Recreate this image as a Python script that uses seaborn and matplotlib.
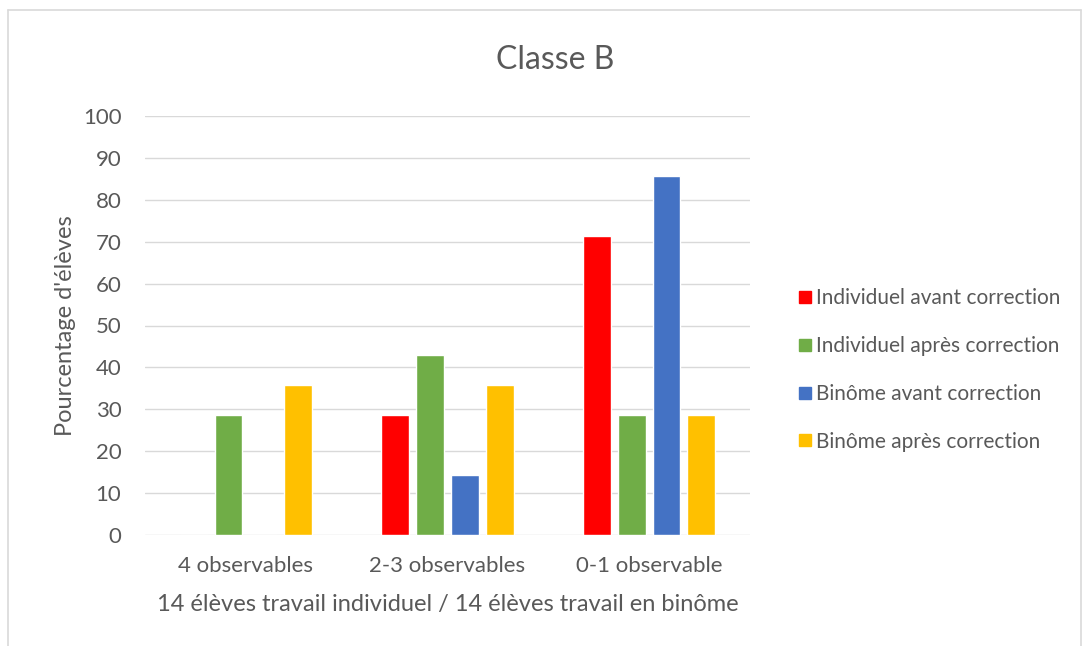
import matplotlib
matplotlib.use("Agg")
import matplotlib.pyplot as plt
import pandas as pd
import seaborn as sns
from matplotlib.lines import Line2D

categories = ["4 observables", "2-3 observables", "0-1 observable"]
series = [
    "Individuel avant correction",
    "Individuel après correction",
    "Binôme avant correction",
    "Binôme après correction",
]
indiv_avant = [0, 28.57, 71.43]
indiv_apres = [28.57, 42.86, 28.57]
binome_avant = [0, 14.29, 85.71]
binome_apres = [35.71, 35.71, 28.57]
colors = ["#FF0000", "#70AD47", "#4472C4", "#FFC000"]

rows = []
for name, vals in zip(series, [indiv_avant, indiv_apres, binome_avant, binome_apres]):
    for cat, v in zip(categories, vals):
        rows.append({"cat": cat, "serie": name, "val": v})
df = pd.DataFrame(rows)

sns.set_theme(style="white")
plt.rcParams["font.family"] = ["Lato", "DejaVu Sans"]
text_color = "#595959"

fig = plt.figure(figsize=(10.91, 6.46), dpi=100)
ax = fig.add_axes([145 / 1091, 111 / 646, 605 / 1091, 419 / 646])

sns.barplot(data=df, x="cat", y="val", hue="serie", order=categories,
            hue_order=series, palette=colors, width=0.69, gap=0.2,
            saturation=1, legend=False, ax=ax)

ax.set_ylim(0, 100)
ax.set_xlim(-0.5, 2.5)
ax.set_yticks(range(0, 101, 10))
ax.yaxis.grid(True, color="#D9D9D9", lw=1)
ax.set_axisbelow(True)
for s in ax.spines.values():
    s.set_visible(False)
ax.tick_params(axis="both", length=0, labelsize=16, colors=text_color)
ax.tick_params(axis="y", pad=17)
ax.tick_params(axis="x", pad=15)
ax.set_xlabel("14 élèves travail individuel / 14 élèves travail en binôme",
              fontsize=17, color=text_color, labelpad=13)
ax.set_ylabel("Pourcentage d'élèves", fontsize=17, color=text_color, labelpad=5)

handles = [Line2D([], [], marker="s", ls="", color=c, markersize=9) for c in colors]
fig.legend(handles, series, loc="center left", bbox_to_anchor=(779 / 1091, 1 - 370 / 646),
           frameon=False, fontsize=15, labelspacing=1.33, handlelength=0.7,
           handletextpad=0.2, labelcolor=text_color)

fig.text(555 / 1091, 1 - 60 / 646, "Classe B", ha="center", va="center",
         fontsize=23, color=text_color)

# chart area border
border_kw = dict(color="#D9D9D9", lw=1.2, transform=fig.transFigure)
fig.add_artist(Line2D([8 / 1091, 8 / 1091], [0, 1 - 10 / 646], **border_kw))
fig.add_artist(Line2D([8 / 1091, 1081 / 1091], [1 - 10 / 646, 1 - 10 / 646], **border_kw))
fig.add_artist(Line2D([1081 / 1091, 1081 / 1091], [0, 1 - 10 / 646], **border_kw))

fig.savefig("out.png", dpi=100)
